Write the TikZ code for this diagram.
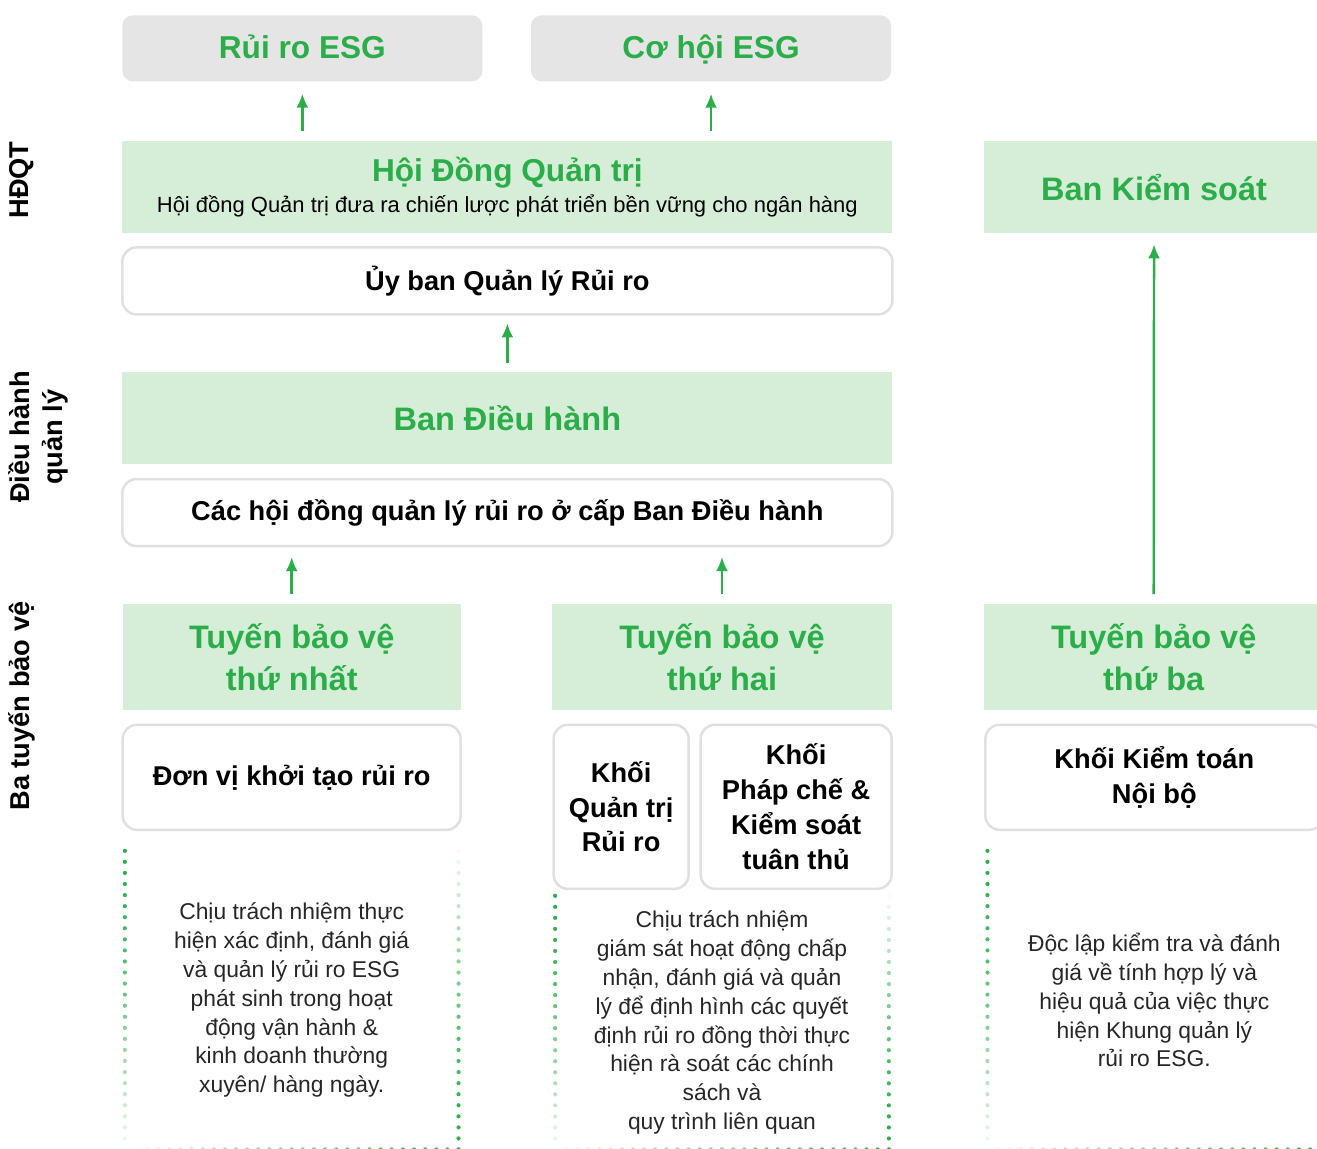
\documentclass[tikz,border=0pt]{standalone}
\usepackage{fontspec}
\setmainfont{Liberation Sans}
\usetikzlibrary{positioning,calc,arrows.meta}
\definecolor{esggreen}{HTML}{2BAE4A}
\definecolor{esglight}{HTML}{D6EED8}
\definecolor{esggrey}{HTML}{E5E5E5}
\definecolor{esgline}{HTML}{E0E0E0}
\tikzset{
    greybox/.style={rectangle,fill=esggrey,rounded corners=6pt,text=esggreen,
                    font=\fontsize{18}{20}\selectfont\bfseries,text height=12pt,text depth=0pt,
                    minimum width=7.2cm,minimum height=1.32cm,inner sep=0pt},
    greenbox/.style={rectangle,fill=esglight,text=esggreen,align=center,inner sep=0pt,
                     font=\fontsize{18.5}{23.8}\selectfont\bfseries},
    whitebox/.style={rectangle,draw=esgline,line width=1.4pt,fill=white,rounded corners=8pt,
                     outer sep=0pt,align=center,inner sep=0pt,
                     font=\fontsize{15.5}{19.8}\selectfont\bfseries},
    desc/.style={rectangle,inner sep=0pt,align=center,text=black!85,
                 font=\fontsize{13}{16.4}\selectfont},
    sidelabel/.style={rotate=90,align=center,font=\fontsize{15.5}{18.7}\selectfont\bfseries},
    arrow/.style={-{Latex[length=0.28cm,width=0.24cm]},draw=esggreen,line width=1.4pt},
}
% khung chấm mờ dần: #1 nút, #2 số chấm cạnh đứng, #3 số chấm cạnh đáy
\newcommand\dotframe[3]{%
    \foreach \idx in {0,...,#2}{%
        \pgfmathsetmacro\frc{\idx/#2}%
        \pgfmathtruncatemacro\pa{100-96*\frc^1.6}%
        \pgfmathtruncatemacro\pb{100-96*(1-\frc)^1.6}%
        \fill[esggreen!\pa!white] ($(#1.north west)!\frc!(#1.south west)$) circle (0.042);
        \fill[esggreen!\pb!white] ($(#1.north east)!\frc!(#1.south east)$) circle (0.042);
    }%
    \foreach \idx in {0,...,#3}{%
        \pgfmathsetmacro\frc{\idx/#3}%
        \pgfmathtruncatemacro\pb{100-96*(1-\frc)^1.6}%
        \fill[esggreen!\pb!white] ($(#1.south west)!\frc!(#1.south east)$) circle (0.042);
    }%
}

\begin{document}
\begin{tikzpicture}

    \useasboundingbox (0,0) rectangle (26.34,-22.98);

    % ---- Rủi ro / Cơ hội ----
    \node[greybox, anchor=north west] (ruiro) at (2.44,-0.30) {Rủi ro ESG};
    \node[greybox, right=0.96cm of ruiro] (cohoi) {Cơ hội ESG};

    % ---- HĐQT ----
    \node[greenbox, minimum width=15.4cm, minimum height=1.84cm,
          below=1.18cm of ruiro.south west, anchor=north west,
          font=\fontsize{18}{18}\selectfont\bfseries] (hdqt)
        {Hội Đồng Quản trị\\{\color{black}\fontsize{12.5}{17}\selectfont\mdseries
         Hội đồng Quản trị đưa ra chiến lược phát triển bền vững cho ngân hàng}};
    \node[greenbox, minimum width=6.8cm, minimum height=1.84cm, right=1.82cm of hdqt] (bks)
        {Ban Kiểm soát};
    \node[whitebox, minimum width=15.4cm, minimum height=1.34cm, below=0.28cm of hdqt] (uyban)
        {Ủy ban Quản lý Rủi ro};

    % ---- Điều hành ----
    \node[greenbox, minimum width=15.4cm, minimum height=1.84cm, below=1.14cm of uyban] (bdh)
        {Ban Điều hành};
    \node[whitebox, minimum width=15.4cm, minimum height=1.34cm, below=0.30cm of bdh] (cachd)
        {Các hội đồng quản lý rủi ro ở cấp Ban Điều hành};

    % ---- Ba tuyến bảo vệ ----
    \node[greenbox, minimum width=6.76cm, minimum height=2.12cm,
          below=1.16cm of cachd.south west, anchor=north west] (tuyen1) {Tuyến bảo vệ\\thứ nhất};
    \node[greenbox, minimum width=6.8cm, minimum height=2.12cm,
          below=1.16cm of cachd.south east, anchor=north east] (tuyen2) {Tuyến bảo vệ\\thứ hai};
    \node[greenbox, minimum width=6.8cm, minimum height=2.12cm, right=1.82cm of tuyen2] (tuyen3)
        {Tuyến bảo vệ\\thứ ba};

    \node[whitebox, minimum width=6.76cm, minimum height=2.1cm, below=0.28cm of tuyen1] (donvi)
        {Đơn vị khởi tạo rủi ro};
    \node[whitebox, minimum width=2.7cm, minimum height=3.28cm,
          below=0.28cm of tuyen2.south west, anchor=north west, xshift=0.04cm] (khoiqt)
        {Khối\\Quản trị\\Rủi ro};
    \node[whitebox, minimum width=3.82cm, minimum height=3.28cm, right=0.24cm of khoiqt] (khoipc)
        {Khối\\Pháp chế \&\\Kiểm soát\\tuân thủ};
    \node[whitebox, minimum width=6.76cm, minimum height=2.1cm,
          below=0.28cm of tuyen3.south west, anchor=north west, xshift=0.04cm] (kiemtoan)
        {Khối Kiểm toán\\Nội bộ};

    % ---- Mô tả ----
    \node[desc, minimum width=6.66cm, minimum height=5.96cm, below=0.42cm of donvi] (mota1)
        {Chịu trách nhiệm thực\\hiện xác định, đánh giá\\và quản lý rủi ro ESG\\phát sinh trong hoạt\\động vận hành \&\\kinh doanh thường\\xuyên/ hàng ngày.};
    \coordinate (k2) at (tuyen2.south |- khoiqt.south);
    \node[desc, minimum width=6.66cm, minimum height=5.06cm, below=0.14cm of k2] (mota2)
        {Chịu trách nhiệm\\giám sát hoạt động chấp\\nhận, đánh giá và quản\\lý để định hình các quyết\\định rủi ro đồng thời thực\\hiện rà soát các chính\\sách và\\quy trình liên quan};
    \node[desc, minimum width=6.66cm, minimum height=5.96cm, below=0.42cm of kiemtoan] (mota3)
        {Độc lập kiểm tra và đánh\\giá về tính hợp lý và\\hiệu quả của việc thực\\hiện Khung quản lý\\rủi ro ESG.};

    \dotframe{mota1}{27}{30}
    \dotframe{mota2}{23}{30}
    \dotframe{mota3}{27}{30}

    % ---- Nhãn bên trái ----
    \node[sidelabel] (lhdqt) at (0.44,-3.60) {HĐQT};
    \node[sidelabel] (ldieuhanh) at (0.76,-8.74) {Điều hành\\quản lý};
    \node[sidelabel] (lbatuyen) at (0.44,-14.12) {Ba tuyến bảo vệ};

    % ---- Mũi tên ----
    \draw[arrow, shorten <=0.2cm, shorten >=0.24cm] (hdqt.north -| ruiro) -- (ruiro.south);
    \draw[arrow, shorten <=0.2cm, shorten >=0.24cm] (hdqt.north -| cohoi) -- (cohoi.south);
    \draw[arrow, shorten <=0.16cm, shorten >=0.18cm] (bdh.north) -- (uyban.south);
    \draw[arrow, shorten <=0.2cm, shorten >=0.22cm] (tuyen1.north) -- (tuyen1.north |- cachd.south);
    \draw[arrow, shorten <=0.2cm, shorten >=0.22cm] (tuyen2.north) -- (tuyen2.north |- cachd.south);
    \draw[arrow, shorten <=0.2cm, shorten >=0.22cm] (tuyen3.north) -- (bks.south);

\end{tikzpicture}
\end{document}
